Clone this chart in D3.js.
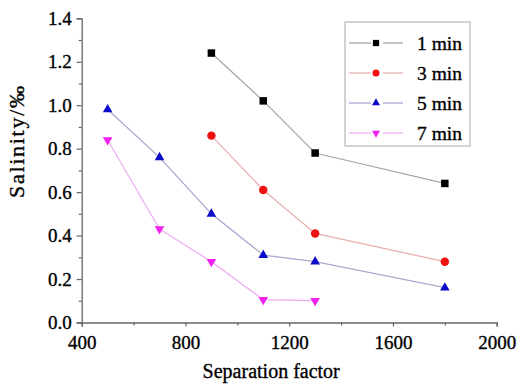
<!DOCTYPE html>
<html>
<head>
<meta charset="utf-8">
<script src="https://cdn.jsdelivr.net/npm/d3@7"></script>
<style>
  body { margin: 0; background: #fff; }
  svg text { font-family: "Liberation Serif", "Times New Roman", serif; fill: #000; stroke: #000; stroke-width: 0.35px; }
</style>
</head>
<body>
<svg width="517" height="386"></svg>
<script>
// series data
var seriesNames = ['1 min', '3 min', '5 min', '7 min'];
var factor1 = [900, 1100, 1300, 1800];
var salt1 = [1.24, 1.02, 0.78, 0.64];
var factor3 = [900, 1100, 1300, 1800];
var salt3 = [0.86, 0.61, 0.41, 0.28];
var factor5 = [500, 700, 900, 1100, 1300, 1800];
var salt5 = [0.98, 0.76, 0.50, 0.31, 0.28, 0.16];
var factor7 = [500, 700, 900, 1100, 1300];
var salt7 = [0.84, 0.43, 0.28, 0.105, 0.10];

var xTicks = [400, 800, 1200, 1600, 2000];
var yTicks = [0.0, 0.2, 0.4, 0.6, 0.8, 1.0, 1.2, 1.4];

var serif = 'Liberation Serif';
var svg = d3.select('svg');

var plot = {l: 81.7, r: 496.7, t: 18.3, b: 322.5};

var x = d3.scaleLinear().domain([400, 2000]).range([plot.l, plot.r]);
var y = d3.scaleLinear().domain([0, 1.4]).range([plot.b, plot.t]);

var styles = [
    {marker: d3.symbolSquare, size: 56, fill: '#000', line: '#a8a8a8', rot: 0},
    {marker: d3.symbolCircle, size: 56, fill: '#f01010', line: '#e8b0b0', rot: 0},
    {marker: d3.symbolTriangle, size: 40, fill: '#0a0ac8', line: '#a8a8d0', rot: 0},
    {marker: d3.symbolTriangle, size: 40, fill: '#f020f0', line: '#f0b0f0', rot: 180}
];

var series = [
    {name: seriesNames[0], xs: factor1, ys: salt1},
    {name: seriesNames[1], xs: factor3, ys: salt3},
    {name: seriesNames[2], xs: factor5, ys: salt5},
    {name: seriesNames[3], xs: factor7, ys: salt7}
];

// axes
var xAxis = svg.append('g')
    .attr('transform', 'translate(0,' + plot.b + ')')
    .call(d3.axisBottom(x).tickValues(d3.range(400, 2001, 200)).tickSize(4)
        .tickFormat(function(d) { return xTicks.indexOf(d) >= 0 ? d : ''; }));
var yAxis = svg.append('g')
    .attr('transform', 'translate(' + plot.l + ',0)')
    .call(d3.axisLeft(y).tickValues(d3.range(0, 15).map(function(i) { return i / 10; })).tickSize(5)
        .tickFormat(function(d, i) { return i % 2 == 0 ? d3.format('.1f')(d) : ''; }));

[xAxis, yAxis].forEach(function(a) {
    a.attr('font-family', null).attr('font-size', null);
    a.select('.domain').attr('stroke', '#666').attr('stroke-width', 1.3);
    a.selectAll('.tick line').attr('stroke', '#666').attr('stroke-width', 1.2);
    a.selectAll('text')
        .style('font-family', serif)
        .style('font-size', '19px')
        .attr('fill', '#000');
});
// minor ticks shorter
xAxis.selectAll('.tick').filter(function(d) { return xTicks.indexOf(d) < 0; })
    .select('line').attr('y2', 3);
yAxis.selectAll('.tick').filter(function(d, i) { return i % 2 == 1; })
    .select('line').attr('x2', -3);
xAxis.selectAll('text').attr('dy', '1.05em');
yAxis.selectAll('text').attr('x', -10);

svg.append('text')
    .attr('x', (plot.l + plot.r) / 2 - 18)
    .attr('y', 378)
    .attr('text-anchor', 'middle')
    .style('font-size', '20px')
    .text('Separation factor');

svg.append('text')
    .attr('transform', 'translate(24,' + 142 + ') rotate(-90)')
    .attr('text-anchor', 'middle')
    .style('font-size', '22px')
    .attr('textLength', 112)
    .attr('lengthAdjust', 'spacing')
    .text('Salinity/‰');

// lines and markers
var line = d3.line()
    .x(function(d) { return x(d[0]); })
    .y(function(d) { return y(d[1]); });

series.forEach(function(s, i) {
    var st = styles[i];
    var pts = s.xs.map(function(v, j) { return [v, s.ys[j]]; });
    svg.append('path')
        .datum(pts)
        .attr('d', line)
        .attr('fill', 'none')
        .attr('stroke', st.line)
        .attr('stroke-width', 1.3);
    svg.selectAll('.m' + i)
        .data(pts)
        .enter()
        .append('path')
        .attr('class', 'm' + i)
        .attr('d', d3.symbol().type(st.marker).size(st.size))
        .attr('transform', function(d) {
            return 'translate(' + [x(d[0]), y(d[1])] + ') rotate(' + st.rot + ')';
        })
        .attr('fill', st.fill);
});

// legend
var legend = svg.append('g').attr('transform', 'translate(345,22)');
legend.append('rect')
    .attr('width', 125)
    .attr('height', 124)
    .attr('fill', '#fff')
    .attr('stroke', '#c4c4c4')
    .attr('stroke-width', 1.5);

var rows = legend.selectAll('.row')
    .data(series)
    .enter()
    .append('g')
    .attr('transform', function(d, i) { return 'translate(0,' + (21 + i * 30) + ')'; });

rows.append('line')
    .attr('x1', 4).attr('x2', 26)
    .attr('stroke', function(d, i) { return styles[i].line; })
    .attr('stroke-width', 1.3);
rows.append('line')
    .attr('x1', 38).attr('x2', 58)
    .attr('stroke', function(d, i) { return styles[i].line; })
    .attr('stroke-width', 1.3);
rows.append('path')
    .attr('d', function(d, i) { return d3.symbol().type(styles[i].marker).size(styles[i].size * 0.7)(); })
    .attr('transform', function(d, i) { return 'translate(31,0) rotate(' + styles[i].rot + ')'; })
    .attr('fill', function(d, i) { return styles[i].fill; });
rows.append('text')
    .attr('x', 72)
    .attr('dy', '0.35em')
    .style('font-family', serif)
    .style('font-size', '19.5px')
    .text(function(d) { return d.name; });
</script>
</body>
</html>
